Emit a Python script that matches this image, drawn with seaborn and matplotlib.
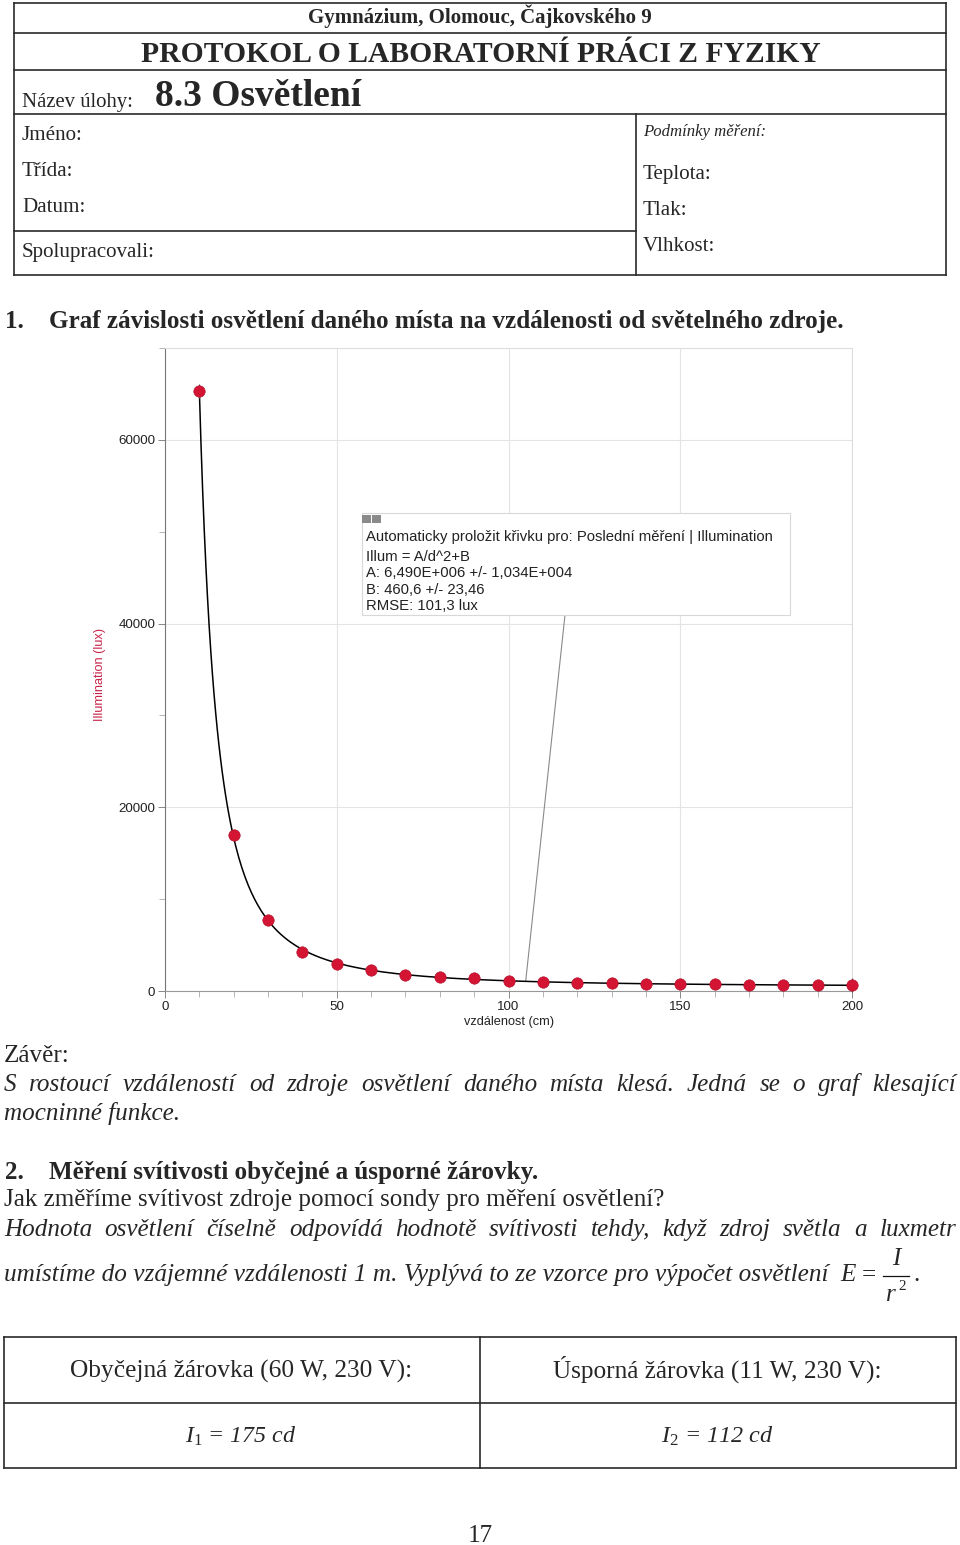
import numpy as np
import seaborn as sns
import matplotlib.pyplot as plt
from matplotlib.patches import Rectangle

# measured points: distance (cm) and illumination (lux)
distance = [10, 20, 30, 40, 50, 60, 70, 80, 90, 100,
            110, 120, 130, 140, 150, 160, 170, 180, 190, 200]
illumination = [65300, 17000, 7700, 4300, 2950, 2280, 1760, 1550, 1380, 1100,
                980, 890, 860, 780, 760, 720, 690, 660, 640, 620]

# fit parameters shown in the box (Illum = A/d^2 + B)
fit_A = 6.490e6
fit_B = 460.6

x_ticks = [0, 50, 100, 150, 200]
y_ticks = [0, 20000, 40000, 60000]

fit_box = ["Automaticky proložit křivku pro: Poslední měření | Illumination",
           "Illum = A/d^2+B",
           "A: 6,490E+006 +/- 1,034E+004",
           "B: 460,6 +/- 23,46",
           "RMSE: 101,3 lux"]

sns.set_theme(style="white")
plt.rcParams["font.family"] = ["Liberation Serif", "DejaVu Serif"]
plt.rcParams["mathtext.fontset"] = "custom"
plt.rcParams["mathtext.rm"] = "Liberation Serif"
plt.rcParams["mathtext.it"] = "Liberation Serif:italic"
SANS = ["Liberation Sans", "DejaVu Sans"]

W, H = 960, 1545
fig = plt.figure(figsize=(W / 100, H / 100), dpi=100)
fig.patch.set_facecolor("white")

# page layer in pixel coordinates
page = fig.add_axes([0, 0, 1, 1], zorder=0)
page.set_xlim(0, W)
page.set_ylim(H, 0)
page.axis("off")
r = fig.canvas.get_renderer()


def line(x0, y0, x1, y1, lw=1.2, c="#2a2a2a"):
    page.plot([x0, x1], [y0, y1], color=c, lw=lw, solid_capstyle="projecting")


def fitted(s, x0, x1, y, **kw):
    t = page.text(x0, y, s, fontsize=10, va="baseline", ha="left", **kw)
    w = t.get_window_extent(r).width
    t.set_fontsize(10 * (x1 - x0) / w)
    return t


def justified(s, x0, x1, y, size, **kw):
    words = s.split()
    ts = [page.text(0, y, w, fontsize=size, va="baseline", **kw) for w in words]
    ws = [t.get_window_extent(r).width for t in ts]
    gap = (x1 - x0 - sum(ws)) / (len(words) - 1)
    x = x0
    for t, w in zip(ts, ws):
        t.set_x(x)
        x += w + gap


# --- header table ---
for (a, b, c, d) in [(14, 3, 946, 3), (14, 275, 946, 275), (14, 3, 14, 275), (946, 3, 946, 275),
                     (14, 33, 946, 33), (14, 70, 946, 70), (14, 114, 946, 114),
                     (636, 114, 636, 275), (14, 231, 636, 231)]:
    line(a, b, c, d)

fitted("Gymnázium, Olomouc, Čajkovského 9", 308, 652, 23, fontweight="bold")
fitted("PROTOKOL O LABORATORNÍ PRÁCI Z FYZIKY", 141, 818, 62, fontweight="bold")
fitted("Název úlohy:", 22, 134, 107)
fitted("8.3 Osvětlení", 155, 362, 106, fontweight="bold")
lab = fitted("Spolupracovali:", 22, 155, 257)
fs = lab.get_fontsize()
for s, x, y in [("Jméno:", 22, 140), ("Třída:", 22, 176), ("Datum:", 22, 212),
                ("Teplota:", 643, 179), ("Tlak:", 643, 215), ("Vlhkost:", 643, 251)]:
    page.text(x, y, s, fontsize=fs, va="baseline")
fitted("Podmínky měření:", 643, 766, 136, style="italic")

# --- section 1 heading ---
h1 = fitted("Graf závislosti osvětlení daného místa na vzdálenosti od světelného zdroje.",
            49, 846, 328, fontweight="bold")
page.text(5, 328, "1.", fontsize=h1.get_fontsize(), fontweight="bold", va="baseline")

# --- chart ---
L, R, T, B = 165, 852, 348, 991
ax = fig.add_axes([L / W, 1 - B / H, (R - L) / W, (B - T) / H], zorder=2)
ax.set_facecolor("none")
ax.set_xlim(0, 200)
ax.set_ylim(0, 70000)

d_fit = np.linspace(distance[0], distance[-1], 400)
sns.lineplot(x=d_fit, y=fit_A / d_fit ** 2 + fit_B, ax=ax, color="black",
             lw=1.1, estimator=None, zorder=3)
sns.scatterplot(x=distance, y=illumination, ax=ax, color="#d31432", s=68,
                edgecolor="#b00f2a", linewidth=0.4, zorder=4, clip_on=False)
# small end brackets of the fitted range
sns.scatterplot(x=[distance[0], distance[-1]], y=[illumination[0], illumination[-1]],
                ax=ax, marker="|", s=90, color="#555", linewidth=0.8, zorder=3,
                clip_on=False)

ax.set_xticks(x_ticks)
ax.set_yticks(y_ticks)
ax.set_xticks(range(0, 201, 10), minor=True)
ax.set_yticks(range(0, 70001, 10000), minor=True)
ax.set_xticklabels([str(v) for v in x_ticks])
ax.set_yticklabels([str(v) for v in y_ticks])
ax.grid(True, which="major", color="#e4e4e4", lw=0.8)
ax.tick_params(which="major", direction="out", length=5, width=0.7, color="#888",
               labelsize=9.6, labelcolor="#222", pad=2, bottom=True, left=True)
ax.tick_params(which="minor", direction="out", length=4, width=0.6, color="#aaa",
               bottom=True, left=True)
for lbl in ax.get_xticklabels() + ax.get_yticklabels():
    lbl.set_fontfamily(SANS)
for side, c in [("left", "#777"), ("bottom", "#999"), ("top", "#ddd"), ("right", "#ddd")]:
    ax.spines[side].set_color(c)
    ax.spines[side].set_linewidth(0.8)

ax.set_xlabel("vzdálenost (cm)", fontsize=9.2, color="#222", fontfamily=SANS)
ax.set_ylabel("Illumination (lux)", fontsize=9.2, color="#c8244a", fontfamily=SANS)
ax.xaxis.set_label_coords((509 - L) / (R - L), -(1016 - B) / (B - T))
ax.yaxis.set_label_coords(-(165 - 106) / (R - L), (B - 674) / (B - T))


def axc(px, py):
    return (px - L) / (R - L), (B - py) / (B - T)


# fit info box
bx0, by0 = axc(362, 615)
bx1, by1 = axc(790, 513)
ax.add_patch(Rectangle((bx0, by0), bx1 - bx0, by1 - by0, transform=ax.transAxes,
                       fc="white", ec="#d8d8d8", lw=0.8, zorder=5))
for px in (362, 372):
    ix, iy = axc(px, 523)
    ax.add_patch(Rectangle((ix, iy), 9 / (R - L), 8 / (B - T), transform=ax.transAxes,
                           fc="#8a8a8a", ec="none", zorder=6))
ax.annotate("", xy=(105, fit_A / 105 ** 2 + fit_B), xytext=axc(565, 615),
            textcoords="axes fraction",
            arrowprops=dict(arrowstyle="-", color="#8a8a8a", lw=0.8, shrinkA=0, shrinkB=0),
            zorder=2)
t0 = ax.text(*axc(366, 541), fit_box[0], transform=ax.transAxes, fontsize=10,
             fontfamily=SANS, color="#222", zorder=7)
bfs = 10 * 406 / t0.get_window_extent(r).width
t0.set_fontsize(bfs)
for s, py in zip(fit_box[1:], [561, 577, 594, 610]):
    ax.text(*axc(366, py), s, transform=ax.transAxes, fontsize=bfs,
            fontfamily=SANS, color="#222", zorder=7)

# --- conclusion and section 2 ---
body = fitted("Jak změříme svítivost zdroje pomocí sondy pro měření osvětlení?", 4, 665, 1206)
bs = body.get_fontsize()
page.text(4, 1062, "Závěr:", fontsize=bs, va="baseline")
justified("S rostoucí vzdáleností od zdroje osvětlení daného místa klesá. Jedná se o graf klesající",
          4, 956, 1091, bs, style="italic")
page.text(4, 1120, "mocninné funkce.", fontsize=bs, style="italic", va="baseline")

h2 = fitted("Měření svítivosti obyčejné a úsporné žárovky.", 49, 541, 1179, fontweight="bold")
page.text(5, 1179, "2.", fontsize=h2.get_fontsize(), fontweight="bold", va="baseline")
justified("Hodnota osvětlení číselně odpovídá hodnotě svítivosti tehdy, když zdroj světla a luxmetr",
          4, 956, 1236, bs, style="italic")
fitted("umístíme do vzájemné vzdálenosti 1 m. Vyplývá to ze vzorce pro výpočet osvětlení",
       4, 830, 1281, style="italic")
page.text(840, 1281, "E", fontsize=bs, style="italic", va="baseline")
page.text(862, 1281, "=", fontsize=bs, va="baseline")
page.text(896, 1265, "I", fontsize=bs, style="italic", va="baseline", ha="center")
line(883, 1276, 909, 1276, lw=0.9, c="#111")
page.text(891, 1301, "r", fontsize=bs, style="italic", va="baseline", ha="center")
page.text(898, 1290, "2", fontsize=bs * 0.6, va="baseline")
page.text(913, 1281, ".", fontsize=bs, va="baseline")

# --- bottom table ---
for (a, b, c, d) in [(4, 1337, 956, 1337), (4, 1468, 956, 1468), (4, 1337, 4, 1468),
                     (956, 1337, 956, 1468), (4, 1403, 956, 1403), (480, 1337, 480, 1468)]:
    line(a, b, c, d)
fitted("Obyčejná žárovka (60 W, 230 V):", 70, 412, 1378)
fitted("Úsporná žárovka (11 W, 230 V):", 553, 883, 1378)
fitted(r"$\mathit{I}_{\mathrm{1}}$ = 175 cd", 185, 298, 1443, style="italic")
fitted(r"$\mathit{I}_{\mathrm{2}}$ = 112 cd", 661, 775, 1443, style="italic")

page.text(480, 1542, "17", fontsize=bs, va="baseline", ha="center")

fig.savefig("out.png", dpi=100, facecolor="white")
